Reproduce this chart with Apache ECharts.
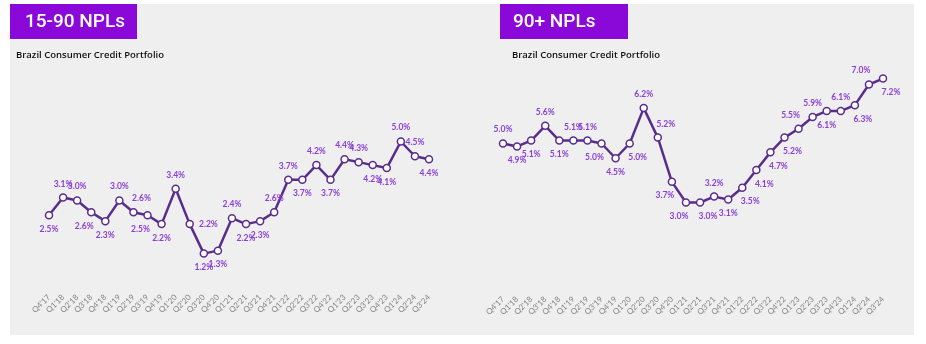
<!DOCTYPE html>
<html><head><meta charset="utf-8">
<script src="https://cdn.jsdelivr.net/npm/echarts@6/dist/echarts.min.js"></script>
<style>html,body{margin:0;padding:0;background:#fff}#c{width:926px;height:344px}</style>
</head><body><div id="c"></div>
<script>
const quarters = ["Q4'17","Q1'18","Q2'18","Q3'18","Q4'18","Q1'19","Q2'19","Q3'19","Q4'19","Q1'20","Q2'20","Q3'20","Q4'20","Q1'21","Q2'21","Q3'21","Q4'21","Q1'22","Q2'22","Q3'22","Q4'22","Q1'23","Q2'23","Q3'23","Q4'23","Q1'24","Q2'24","Q3'24"];
const npl1590 = [2.5,3.1,3.0,2.6,2.3,3.0,2.6,2.5,2.2,3.4,2.2,1.2,1.3,2.4,2.2,2.3,2.6,3.7,3.7,4.2,3.7,4.4,4.3,4.2,4.1,5.0,4.5,4.4];
const npl90 = [5.0,4.9,5.1,5.6,5.1,5.1,5.1,5.0,4.5,5.0,6.2,5.2,3.7,3.0,3.0,3.2,3.1,3.5,4.1,4.7,5.2,5.5,5.9,6.1,6.1,6.3,7.0,7.2];
const titles = ["15-90 NPLs","90+ NPLs"];
const subtitle = "Brazil Consumer Credit Portfolio";

// label placement (style only)
const pos1590 = ['b','t','t','bl','b','t','tr','bl','b','t','r','b','b','t','b','b','t','t','b','t','b','t','t','b','b','t','t','b'];
const pos90 = ['t','b','b','t','b','t','t','bl','b','br','t','tr','bl','bl','br','t','b','br','br','br','br','tl','t','b','t','br','tl','br'];

const PURPLE_LINE = '#5a2d8c';
const PURPLE_LBL = '#8a3fd6';
function lbl(p){
  const m = {
    t:{position:'top'}, b:{position:'bottom'}, r:{position:'right'},
    br:{position:'bottom',offset:[8,0]}, bl:{position:'bottom',offset:[-7,0]},
    tr:{position:'top',offset:[8,0]}, tl:{position:'top',offset:[-8,0]}
  };
  return m[p];
}
function mk(vals,pos){ return vals.map((v,i)=>({value:v,label:lbl(pos[i])})); }

const chart = echarts.init(document.getElementById('c'),null,{renderer:'canvas'});
const xa = (gi)=>({type:'category',gridIndex:gi,data:quarters,boundaryGap:false,
  axisLine:{show:false},axisTick:{show:false},splitLine:{show:false},
  axisLabel:{interval:0,rotate:45,fontSize:8,color:'#858585',margin:7,fontFamily:'Lato'}});
const ya = (gi,max)=>({type:'value',gridIndex:gi,min:0,max:max,show:false,splitLine:{show:false}});
const ser = (gi,vals,pos)=>({type:'line',xAxisIndex:gi,yAxisIndex:gi,data:mk(vals,pos),
  lineStyle:{color:PURPLE_LINE,width:2.5},itemStyle:{color:'#fff',borderColor:PURPLE_LINE,borderWidth:1.5},
  symbol:'circle',symbolSize:7,
  label:{show:true,formatter:p=>p.value.toFixed(1)+'%',color:PURPLE_LBL,fontSize:8.5,fontWeight:'bold',fontFamily:'Lato',distance:5},
  animation:false});
chart.setOption({
  backgroundColor:'#fff',
  animation:false,
  graphic:[
    {type:'rect',shape:{x:10,y:4,width:904,height:331},style:{fill:'#efefef'},z:-10},
    {type:'rect',shape:{x:10,y:4,width:127,height:35},style:{fill:'#8a08d8'}},
    {type:'text',x:25,y:22,style:{text:titles[0],fill:'#fff',font:'500 19px Roboto',textVerticalAlign:'middle'}},
    {type:'rect',shape:{x:500,y:4,width:128,height:35},style:{fill:'#8a08d8'}},
    {type:'text',x:513,y:22,style:{text:titles[1],fill:'#fff',font:'500 19px Roboto',textVerticalAlign:'middle'}},
    {type:'text',x:16,y:55,style:{text:subtitle,fill:'#111',font:'600 9.5px "Open Sans"',textVerticalAlign:'middle'}},
    {type:'text',x:512,y:55,style:{text:subtitle,fill:'#111',font:'600 9.5px "Open Sans"',textVerticalAlign:'middle'}}
  ],
  grid:[
    {left:49,right:497,top:112,bottom:55},
    {left:503,right:43,top:55,bottom:53}
  ],
  xAxis:[xa(0),xa(1)],
  yAxis:[ya(0,6),ya(1,8)],
  series:[ser(0,npl1590,pos1590),ser(1,npl90,pos90)]
});
</script></body></html>
